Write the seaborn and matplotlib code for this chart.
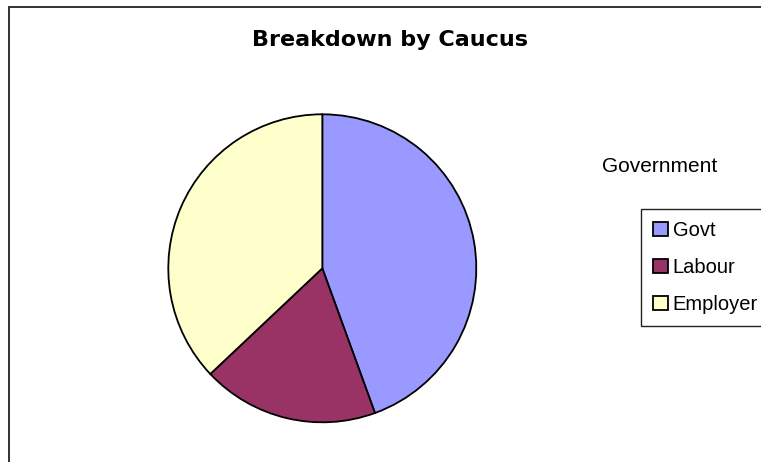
import matplotlib
matplotlib.use("Agg")
import matplotlib.pyplot as plt
import seaborn as sns
from matplotlib.patches import Patch, Rectangle

# Data
categories = ["Govt", "Labour", "Employer"]
values = [12, 5, 10]
colors = ["#9999FF", "#993366", "#FFFFCC"]
title = "Breakdown by Caucus"
legend_title = "Government"

sns.set_theme(style="white")
plt.rcParams["font.family"] = ["Liberation Sans", "DejaVu Sans"]
plt.rcParams["text.color"] = "black"

W, H = 761, 462
fig = plt.figure(figsize=(W / 100, H / 100), dpi=100)
fig.patch.set_facecolor("white")

# outer chart frame (extends beyond right/bottom edges)
fig.patches.append(Rectangle((8.5 / W, -0.1), 1.2, 1.1 - 7.5 / H,
                             transform=fig.transFigure, fill=False,
                             edgecolor="#222222", linewidth=1.3, clip_on=False))

cx, cy, r = 322.3, 268.3, 154.0
ax = fig.add_axes([(cx - r) / W, (H - cy - r) / H, 2 * r / W, 2 * r / H])
wedges, _ = ax.pie(values, colors=colors, startangle=90, counterclock=False,
                   radius=1.0,
                   wedgeprops=dict(edgecolor="black", linewidth=1.3))
ax.set_xlim(-1.0, 1.0)
ax.set_ylim(-1.0, 1.0)
ax.set_aspect("equal")
ax.axis("off")

fig.text(252 / W, 1 - 39.5 / H, title, ha="left", va="center",
         fontsize=16, fontweight="bold", color="black",
         family=["DejaVu Sans"])
fig.text(602 / W, 1 - 166.5 / H, legend_title, ha="left", va="center",
         fontsize=15, color="black")

handles = [Patch(facecolor=c, edgecolor="black", linewidth=1.3) for c in colors]
leg = fig.legend(handles, categories, loc="upper left",
                 bbox_to_anchor=(641 / W, 1 - 209 / H),
                 bbox_transform=fig.transFigure,
                 fontsize=14.5, frameon=True, fancybox=False, shadow=False,
                 borderaxespad=0, borderpad=0.6, labelspacing=0.9,
                 handlelength=0.72, handleheight=0.72, handletextpad=0.25)
for t in leg.get_texts():
    t.set_color("black")
frame = leg.get_frame()
frame.set_edgecolor("#222222")
frame.set_linewidth(1.0)
frame.set_facecolor("white")
frame.set_alpha(1)

fig.savefig("out.png", dpi=100)
